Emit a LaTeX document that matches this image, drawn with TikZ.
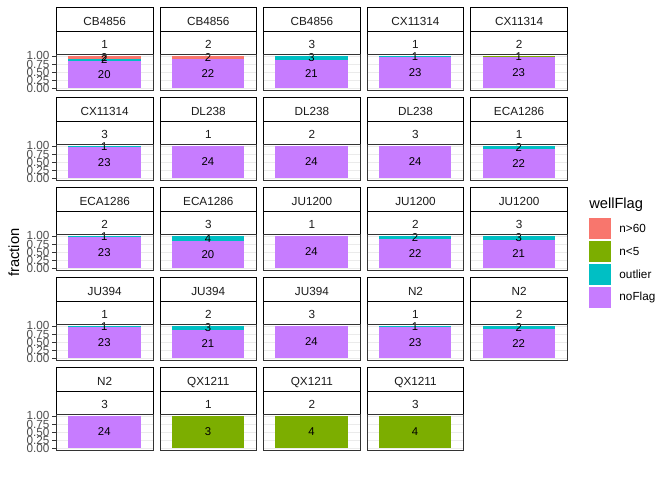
\documentclass[tikz,border=0pt]{standalone}
\usepackage{fontspec}
\setmainfont{Liberation Sans}
\usetikzlibrary{positioning}
\definecolor{nbig}{HTML}{F8766D}
\definecolor{nsmall}{HTML}{7CAE00}
\definecolor{outlier}{HTML}{00BFC4}
\definecolor{noflag}{HTML}{C77CFF}
\definecolor{ggrid}{HTML}{EBEBEB}
\definecolor{gframe}{HTML}{333333}
\definecolor{ticktext}{HTML}{4D4D4D}
\definecolor{striptext}{HTML}{1A1A1A}
\newcommand{\smalltxt}{\fontsize{8.8pt}{10pt}\selectfont}
\newcommand{\bartxt}{\fontsize{8.5pt}{10pt}\selectfont}
\newcommand{\bigtxt}{\fontsize{11pt}{13pt}\selectfont}

% one facet: column, row, strain, replicate, total, counts from bottom to top
\newcommand{\facet}[6]{%
  \begin{scope}[shift={({56+103.6*#1},{7+90*#2})}]
    \node[strip] at (0,0) (sa#1#2) {#3};
    \node[strip, minimum height=17.5pt] at (0,24) (sb#1#2) {#4};
    \foreach \v in {0,0.25,0.5,0.75,1}
      \path[draw,ggrid,line width=0.5pt] (0,{81.1-32.18*\v}) -- (96.6,{81.1-32.18*\v});
    \gdef\cum{0}
    \foreach \fl/\cnt in {#6}{
      \fill[\fl] (12.1,{81.1-32.18*\cum/#5}) rectangle (84.5,{81.1-32.18*(\cum+\cnt)/#5});
      \pgfmathsetmacro\nxt{\cum+\cnt}\xdef\cum{\nxt}}
    \gdef\cum{0}
    \foreach \fl/\cnt in {#6}{
      \node[count] at (48.3,{81.1-32.18*(\cum+\cnt/2)/#5}) (c\fl#1#2) {\cnt};
      \pgfmathsetmacro\nxt{\cum+\cnt}\xdef\cum{\nxt}}
    \node[panelbox] at (0,47.3) (p#1#2) {};
    \ifnum#1=0
      \foreach \v/\t [count=\i] in {0/0.00,0.25/0.25,0.5/0.50,0.75/0.75,1/1.00}{
        \path[draw,gframe,line width=0.5pt] (-3.6,{81.1-32.18*\v}) -- (0,{81.1-32.18*\v});
        \node[ticklab] at (-6.3,{81.1-32.18*\v}) (y#2\i) {\t};}
    \fi
  \end{scope}}

\begin{document}
\begin{tikzpicture}[x=0.75pt,y=-0.75pt,
    strip/.style={draw=black, line width=0.6pt, anchor=north west, inner sep=0pt,
      minimum width=72.45pt, minimum height=18pt, font=\smalltxt, text=striptext,
      text height=8.5pt, text depth=0pt},
    panelbox/.style={draw=gframe, line width=0.7pt, anchor=north west, inner sep=0pt,
      minimum width=72.45pt, minimum height=26.55pt},
    count/.style={font=\bartxt, inner sep=0pt},
    ticklab/.style={anchor=east, font=\smalltxt, text=ticktext, inner sep=0pt},
    key/.style={minimum width=16.3pt, minimum height=15.4pt, inner sep=0pt},
    keylab/.style={anchor=west, font=\smalltxt, inner sep=0pt}]
  \path[use as bounding box] (0,0) rectangle (672,480);
  % facets
  \facet{0}{0}{CB4856}{1}{24}{noflag/20,outlier/2,nbig/2}
  \facet{1}{0}{CB4856}{2}{24}{noflag/22,nbig/2}
  \facet{2}{0}{CB4856}{3}{24}{noflag/21,outlier/3}
  \facet{3}{0}{CX11314}{1}{24}{noflag/23,outlier/1}
  \facet{4}{0}{CX11314}{2}{24}{noflag/23,nsmall/1}
  \facet{0}{1}{CX11314}{3}{24}{noflag/23,outlier/1}
  \facet{1}{1}{DL238}{1}{24}{noflag/24}
  \facet{2}{1}{DL238}{2}{24}{noflag/24}
  \facet{3}{1}{DL238}{3}{24}{noflag/24}
  \facet{4}{1}{ECA1286}{1}{24}{noflag/22,outlier/2}
  \facet{0}{2}{ECA1286}{2}{24}{noflag/23,outlier/1}
  \facet{1}{2}{ECA1286}{3}{24}{noflag/20,outlier/4}
  \facet{2}{2}{JU1200}{1}{24}{noflag/24}
  \facet{3}{2}{JU1200}{2}{24}{noflag/22,outlier/2}
  \facet{4}{2}{JU1200}{3}{24}{noflag/21,outlier/3}
  \facet{0}{3}{JU394}{1}{24}{noflag/23,outlier/1}
  \facet{1}{3}{JU394}{2}{24}{noflag/21,outlier/3}
  \facet{2}{3}{JU394}{3}{24}{noflag/24}
  \facet{3}{3}{N2}{1}{24}{noflag/23,outlier/1}
  \facet{4}{3}{N2}{2}{24}{noflag/22,outlier/2}
  \facet{0}{4}{N2}{3}{24}{noflag/24}
  \facet{1}{4}{QX1211}{1}{3}{nsmall/3}
  \facet{2}{4}{QX1211}{2}{4}{nsmall/4}
  \facet{3}{4}{QX1211}{3}{4}{nsmall/4}
  % axis title
  \node[rotate=90, font=\bigtxt] at (14,252.5) (ytitle) {fraction};
  % legend
  \node[anchor=west, font=\bigtxt, inner sep=0pt] at (589,205) (legtitle) {wellFlag};
  \foreach \fl/\lab [count=\i] in {nbig/n>60,nsmall/n<5,outlier/outlier,noflag/noFlag}{
    \node[key, fill=\fl] at (599.8,{205.5+23*\i}) (k\i) {};
    \node[keylab, right=6.2pt of k\i] (l\i) {\lab};}
\end{tikzpicture}
\end{document}
